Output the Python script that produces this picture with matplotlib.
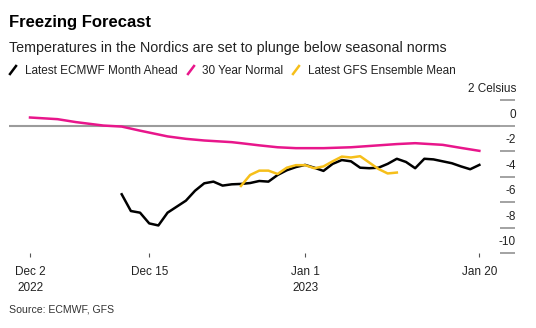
import datetime as dt

import matplotlib
matplotlib.use("Agg")
import matplotlib.pyplot as plt
import matplotlib.transforms as mtrans
from matplotlib.lines import Line2D

plt.rcParams['font.family'] = ['Liberation Sans', 'DejaVu Sans']

start = dt.datetime(2022, 12, 2)

# 30 year normal, day offsets from Dec 2
normal_days = [0, 3, 5, 8, 10, 12, 15, 17, 19, 22, 23, 25, 27, 29, 32, 35, 38, 40, 42, 45, 47, 49]
normal_vals = [0.63, 0.5, 0.27, 0.0, -0.08, -0.4, -0.85, -1.04, -1.17, -1.3, -1.38, -1.55,
               -1.7, -1.77, -1.77, -1.7, -1.55, -1.45, -1.38, -1.51, -1.75, -1.98]

# latest ECMWF month ahead, daily from Dec 12
ecmwf_days = list(range(10, 50))
ecmwf_vals = [-5.38, -6.69, -6.82, -7.66, -7.82, -6.82, -6.35, -5.88, -5.1, -4.52,
              -4.39, -4.7, -4.6, -4.57, -4.5, -4.34, -4.39, -3.87, -3.5, -3.25,
              -3.08, -3.3, -3.55, -3.0, -2.7, -2.8, -3.3, -3.34, -3.3, -3.0,
              -2.6, -2.85, -3.34, -2.6, -2.65, -2.8, -2.95, -3.2, -3.42, -3.08]

# latest GFS ensemble mean, daily from Dec 25
gfs_days = list(range(23, 41))
gfs_vals = [-4.73, -3.87, -3.53, -3.53, -3.79, -3.3, -3.1, -3.1, -3.34, -3.2,
            -2.8, -2.43, -2.5, -2.4, -2.9, -3.4, -3.75, -3.68]

y_ticks = [2, 0, -2, -4, -6, -8, -10]
y_labels = ['2 Celsius', '0', '-2', '-4', '-6', '-8', '-10']
x_ticks = [dt.datetime(2022, 12, 2), dt.datetime(2022, 12, 15),
           dt.datetime(2023, 1, 1), dt.datetime(2023, 1, 20)]
x_labels = ['Dec 2\n2022', 'Dec 15', 'Jan 1\n2023', 'Jan 20']

PINK = '#e8168b'
GOLD = '#f6bf1a'
GREY = '#9b9b9b'

W, H = 536, 328


def fx(x):
    return x / W


def fy(y):
    return 1 - y / H


def to_dates(days):
    return [start + dt.timedelta(days=d) for d in days]


fig = plt.figure(figsize=(W / 100, H / 100), dpi=100)
ax = fig.add_axes([fx(9), fy(253.3), fx(500 - 9), (253.3 - 100) / H])

ax.axhline(0, color=GREY, lw=1.5, zorder=1)
ax.plot(to_dates(normal_days), normal_vals, color=PINK, lw=1.8, zorder=3)
ax.plot(to_dates(ecmwf_days), ecmwf_vals, color='black', lw=1.8, zorder=2)
ax.plot(to_dates(gfs_days), gfs_vals, color=GOLD, lw=1.8, zorder=4)

ax.set_ylim(-10, 2)
ax.set_xlim(start - dt.timedelta(days=2.29), start + dt.timedelta(days=51.25))

for s in ax.spines.values():
    s.set_visible(False)

# right hand axis: tick lines with labels sitting above them
ax.yaxis.tick_right()
ax.set_yticks(y_ticks)
ax.set_yticklabels([])
ax.tick_params(axis='y', direction='out', length=11, width=1.3, color=GREY, pad=0)
lab_tr = mtrans.offset_copy(
    mtrans.blended_transform_factory(ax.transAxes, ax.transData),
    fig=fig, x=0, y=8, units='dots')
for v, lab in zip(y_ticks, y_labels):
    ax.text((516 - 9) / (500 - 9), v, lab, transform=lab_tr, ha='right',
            va='baseline', fontsize=8.5, color='#222222')

ax.set_xticks(x_ticks)
ax.set_xticklabels(x_labels, fontsize=8.5, color='#222222', linespacing=1.45)
ax.tick_params(axis='x', length=3, width=0.8, color='#555555', pad=6)

fig.text(fx(9), fy(27), 'Freezing Forecast', fontsize=12, fontweight='bold',
         va='baseline', ha='left', color='black')
fig.text(fx(9), fy(52), 'Temperatures in the Nordics are set to plunge below seasonal norms',
         fontsize=10.3, va='baseline', ha='left', color='#222222')

legend_items = [(10, 25, 'black', 'Latest ECMWF Month Ahead'),
                (188, 202, PINK, '30 Year Normal'),
                (293, 308, GOLD, 'Latest GFS Ensemble Mean')]
for x0, tx, col, lab in legend_items:
    fig.add_artist(Line2D([fx(x0), fx(x0 + 6)], [fy(74), fy(66)], color=col, lw=1.8,
                          transform=fig.transFigure))
    fig.text(fx(tx), fy(74), lab, fontsize=8.5, va='baseline', ha='left', color='#222222')

fig.text(fx(9), fy(312), 'Source: ECMWF, GFS', fontsize=7.6, va='baseline', ha='left',
         color='#333333')

fig.savefig('out.png', dpi=100)
